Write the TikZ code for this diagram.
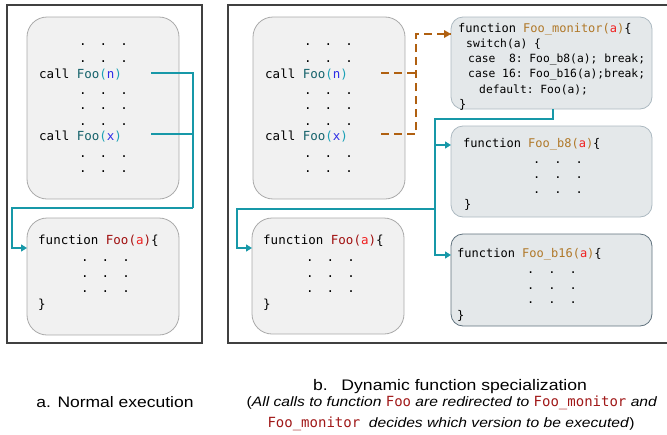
\documentclass[tikz,border=0pt]{standalone}
\usepackage{fontspec}
\setmainfont{Liberation Sans}
\setmonofont{DejaVu Sans Mono}
\newfontfamily\capfont{Liberation Sans}[FakeStretch=1.15]
\usetikzlibrary{arrows.meta}

\definecolor{linkteal}{RGB}{23,152,168}
\definecolor{redirbrown}{RGB}{176,96,16}
\definecolor{callfoo}{RGB}{21,98,107}
\definecolor{callparen}{RGB}{26,160,181}
\definecolor{callarg}{RGB}{43,43,230}
\definecolor{funcred}{RGB}{160,15,15}
\definecolor{argred}{RGB}{240,32,32}
\definecolor{mongold}{RGB}{176,120,40}
\definecolor{capred}{RGB}{160,24,24}
\definecolor{greyfill}{RGB}{241,241,241}
\definecolor{greyline}{RGB}{170,170,170}
\definecolor{bluefill}{RGB}{228,232,234}
\definecolor{blueline}{RGB}{172,185,193}
\definecolor{darkline}{RGB}{96,114,126}

\newcommand{\dotrow}[1][13pt]{.\hskip#1.\hskip#1.}
\newcommand{\callfoo}[1]{\textcolor{callfoo}{Foo}\textcolor{callparen}{(}\textcolor{callarg}{#1}\textcolor{callparen}{)}}
\newcommand{\funcfoo}[1]{\textcolor{funcred}{#1(}\textcolor{argred}{a}\textcolor{funcred}{)}}
\newcommand{\monfoo}[1]{\textcolor{mongold}{#1(}\textcolor{argred}{a}\textcolor{mongold}{)}}
\newcommand{\capcode}[1]{\textcolor{capred}{\ttfamily\fontsize{14}{16}\selectfont #1}}

\tikzset{
  frame/.style={draw=black!75, line width=1.3pt},
  grey box/.style={draw=greyline, fill=greyfill, line width=0.8pt, rounded corners=20pt, inner sep=0pt},
  blue box/.style={draw=blueline, fill=bluefill, line width=0.8pt, rounded corners=12pt, inner sep=0pt},
  code/.style={anchor=base west, inner sep=0pt, font=\ttfamily\fontsize{12.5}{14}\selectfont},
  small code/.style={code, font=\ttfamily\fontsize{12}{14}\selectfont},
  mon code/.style={code, font=\ttfamily\fontsize{11.3}{14}\selectfont},
  link/.style={draw=linkteal, line width=1.4pt},
  redir/.style={draw=redirbrown, line width=1.4pt, dash pattern=on 8pt off 5pt},
  arrowtip/.style={-{Triangle[width=7pt,length=6pt]}},
  capt/.style={anchor=base, inner sep=0pt}
}

\begin{document}
\begin{tikzpicture}[x=1pt,y=-1pt]
  \useasboundingbox (0,0) rectangle (667,434);

  % frames
  \draw[frame] (7,5) rectangle (202,343);
  \draw[frame] (668,5) -- (228,5) -- (228,343) -- (668,343);

  % a. normal execution
  \node[grey box, minimum width=152pt, minimum height=182pt] (callsA) at (103,108) {};
  \node[grey box, minimum width=152pt, minimum height=117pt] (funcA) at (103,276.5) {};

  \node[code] (dA1) at (79,45) {\dotrow};
  \node[code] (dA2) at (79,62) {\dotrow};
  \node[code] (callnA) at (39,78) {call \callfoo{n}};
  \node[code] (dA3) at (79,94) {\dotrow};
  \node[code] (dA4) at (79,109) {\dotrow};
  \node[code] (dA5) at (79,125) {\dotrow};
  \node[code] (callxA) at (39,140) {call \callfoo{x}};
  \node[code] (dA6) at (79,157) {\dotrow};
  \node[code] (dA7) at (79,172) {\dotrow};

  \node[code] (headA) at (38,244) {function \funcfoo{Foo}\{};
  \node[code] (dA8) at (81,261) {\dotrow};
  \node[code] (dA9) at (81,277) {\dotrow};
  \node[code] (dA10) at (81,292) {\dotrow};
  \node[code] (endA) at (38,308) {\}};

  \coordinate (nA) at (151,73);
  \coordinate (xA) at (151,134);
  \coordinate (jA) at (193,208);
  \coordinate (inA) at (27,248);
  \draw[link] (nA) -| (jA);
  \draw[link] (xA) -- (xA -| jA);
  \draw[link, arrowtip] (jA) -- (12,208) |- (inA);

  % b. dynamic specialization
  \node[grey box, minimum width=152pt, minimum height=182pt] (callsB) at (329,108) {};
  \node[grey box, minimum width=152pt, minimum height=116pt] (funcB) at (328,276) {};

  \node[code] (dB1) at (304,45) {\dotrow};
  \node[code] (dB2) at (304,62) {\dotrow};
  \node[code] (callnB) at (265,78) {call \callfoo{n}};
  \node[code] (dB3) at (304,94) {\dotrow};
  \node[code] (dB4) at (304,109) {\dotrow};
  \node[code] (dB5) at (304,125) {\dotrow};
  \node[code] (callxB) at (265,140) {call \callfoo{x}};
  \node[code] (dB6) at (304,157) {\dotrow};
  \node[code] (dB7) at (304,172) {\dotrow};

  \node[code] (headB) at (263,244) {function \funcfoo{Foo}\{};
  \node[code] (dB8) at (306,261) {\dotrow};
  \node[code] (dB9) at (306,277) {\dotrow};
  \node[code] (dB10) at (306,292) {\dotrow};
  \node[code] (endB) at (263,308) {\}};

  \node[blue box, minimum width=201pt, minimum height=92pt] (mon) at (551.5,63) {};
  \node[small code] (monHead) at (458,32) {function \monfoo{Foo\_monitor}\{};
  \node[mon code] (mon1) at (466,47) {switch(a) \{};
  \node[mon code] (mon2) at (468,62) {case\ \ 8: Foo\_b8(a); break;};
  \node[mon code] (mon3) at (468,77) {case 16: Foo\_b16(a);break;};
  \node[mon code] (mon4) at (479,93) {default: Foo(a);};
  \node[small code] (mon5) at (459,108) {\}};

  \node[blue box, minimum width=201pt, minimum height=91pt] (bEight) at (551.5,171.5) {};
  \node[small code] (headB8) at (463,147) {function \monfoo{Foo\_b8}\{};
  \node[small code] (dC1) at (533,163) {\dotrow[14pt]};
  \node[small code] (dC2) at (533,178) {\dotrow[14pt]};
  \node[small code] (dC3) at (533,193) {\dotrow[14pt]};
  \node[small code] (endB8) at (464,208) {\}};

  \node[blue box, draw=darkline, minimum width=201pt, minimum height=92pt] (bSixteen) at (551.5,280) {};
  \node[small code] (headB16) at (457,257) {function \monfoo{Foo\_b16}\{};
  \node[small code] (dD1) at (527,273) {\dotrow[14pt]};
  \node[small code] (dD2) at (527,289) {\dotrow[14pt]};
  \node[small code] (dD3) at (527,303) {\dotrow[14pt]};
  \node[small code] (endB16) at (457,319) {\}};

  \coordinate (nB) at (381,73);
  \coordinate (xB) at (381,134);
  \coordinate (jB) at (416,73);
  \coordinate (inMon) at (451,34);
  \draw[redir] (nB) -- (jB);
  \draw[redir] (xB) -| (jB) |- (inMon);
  \fill[redirbrown] (inMon) -- ++(-7,-4) -- ++(0,8) -- cycle;

  \coordinate (monOut) at (553,109);
  \coordinate (bus) at (435,119);
  \coordinate (inB8) at (451,145);
  \coordinate (inB16) at (451,255);
  \coordinate (jC) at (435,209);
  \coordinate (inB) at (252,248);
  \draw[link, arrowtip] (monOut) |- (bus) |- (inB16);
  \draw[link, arrowtip] (bus |- inB8) -- (inB8);
  \draw[link, arrowtip] (jC) -- (237,209) |- (inB);

  % captions
  \node[capt, font=\capfont\fontsize{15.2}{17}\selectfont] (capA) at (115,407) {a. Normal execution};
  \node[capt, font=\capfont\fontsize{15.3}{17}\selectfont] (capB1) at (450,390) {b.\hspace{0.9em}Dynamic function specialization};
  \node[capt, font=\capfont\fontsize{13.6}{16}\selectfont] (capB2) at (452,406) {(\textit{All calls to function} \capcode{Foo} \textit{are redirected to} \capcode{Foo\_monitor} \textit{and}};
  \node[capt, font=\capfont\fontsize{13.6}{16}\selectfont] (capB3) at (451,427) {\capcode{Foo\_monitor}\ \ \textit{decides which version to be executed})};
\end{tikzpicture}
\end{document}
